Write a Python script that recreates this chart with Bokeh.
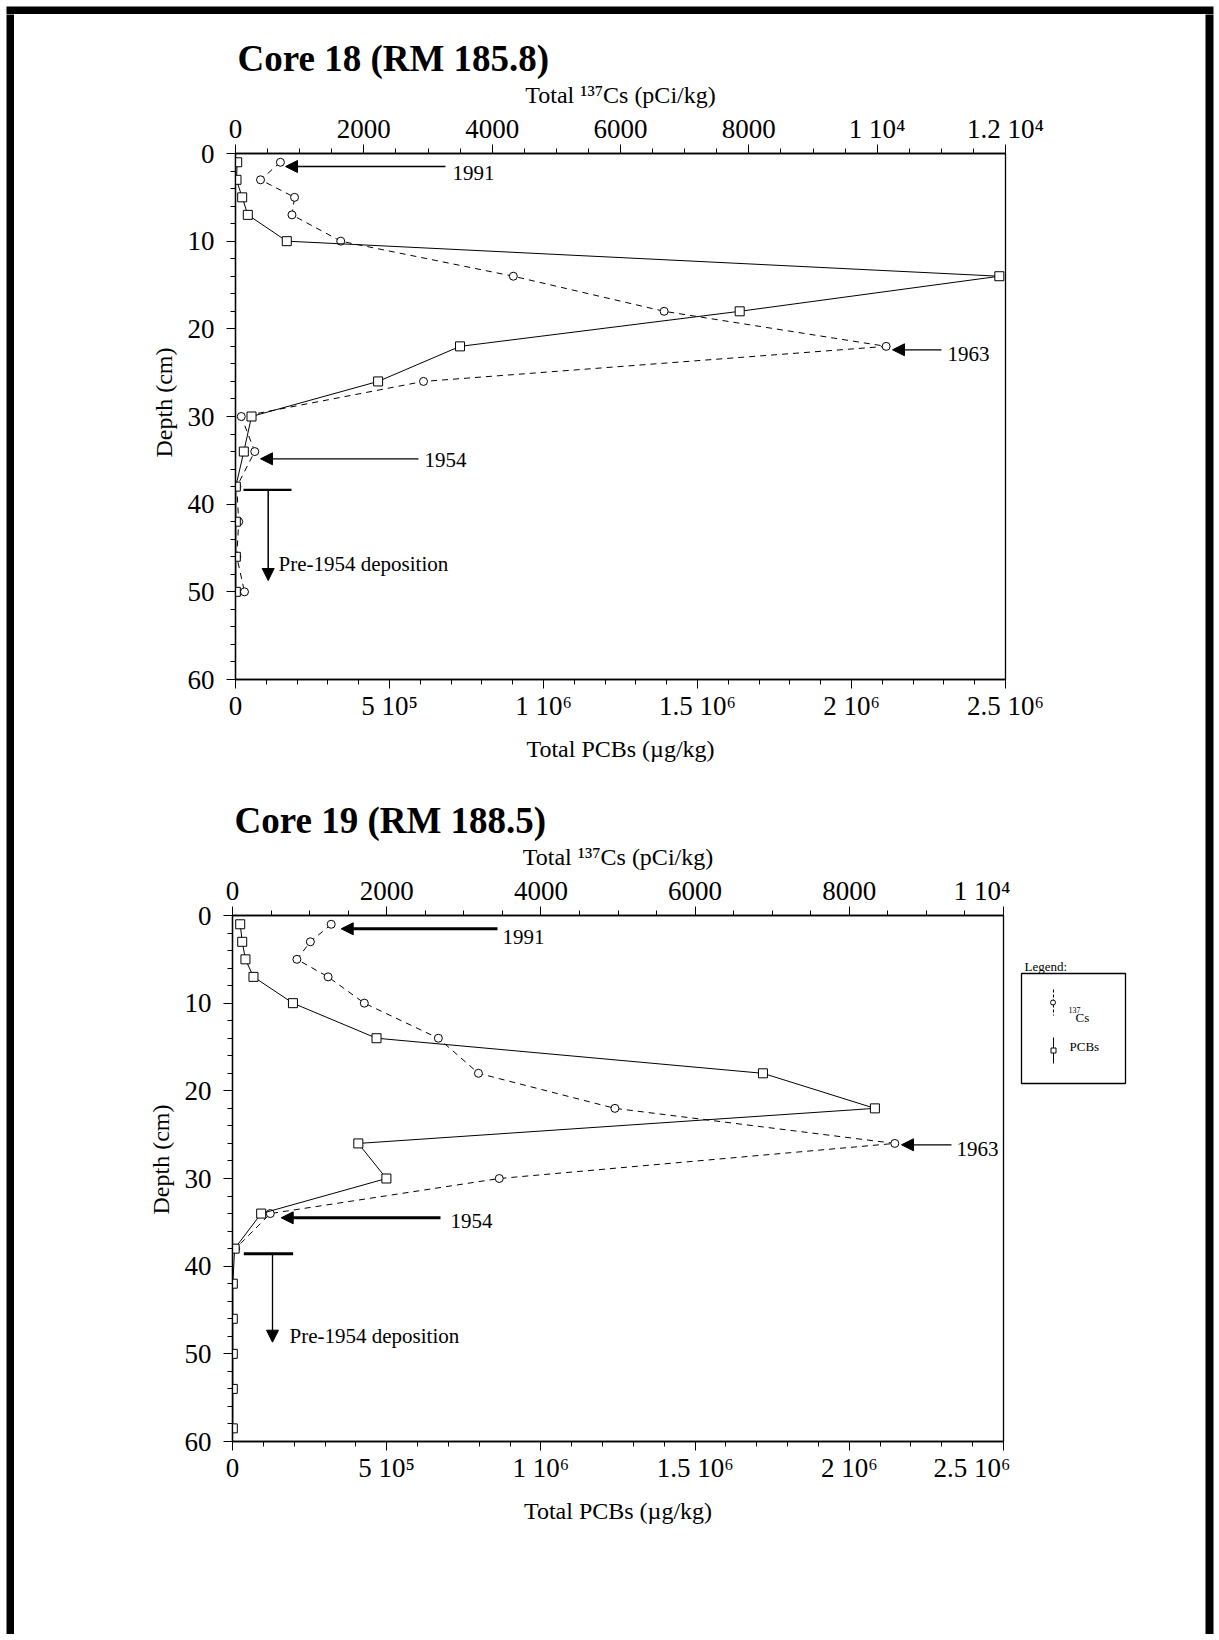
from bokeh.plotting import figure
from bokeh.models import Range1d, LinearAxis, FixedTicker, Label, Arrow, NormalHead, Title
from bokeh.layouts import column, row
from bokeh.core.properties import value
from bokeh.embed import file_html
from bokeh.resources import INLINE

FONT = "Liberation Serif"
PAGE_W = 1219

# ---------------- data ----------------
# Core 18 (RM 185.8)
depth18 = [1, 3, 5, 7, 10, 14, 18, 22, 26, 30, 34, 38, 42, 46, 50]
cs18 = [700, 390, 920, 880, 1640, 4330, 6680, 10140, 2930, 90, 300, 20, 50, 20, 140]
pcb18 = [5500, 3200, 21700, 40000, 166500, 2480000, 1637000, 729000, 463000,
         52000, 27000, 1000, 1000, 1000, 1000]

# Core 19 (RM 188.5)
depth19_cs = [1, 3, 5, 7, 10, 14, 18, 22, 26, 30, 34, 38]
cs19 = [1280, 1010, 835, 1240, 1710, 2670, 3190, 4960, 8590, 3460, 490, 40]
depth19 = [1, 3, 5, 7, 10, 14, 18, 22, 26, 30, 34, 38, 42, 46, 50, 54, 58.5]
pcb19 = [25000, 31500, 42000, 68000, 196000, 467000, 1720000, 2083000, 408000,
         499000, 93000, 7000, 1000, 1000, 1000, 1000, 1000]

# ticks / labels
pcb_ticks = [0, 500000, 1000000, 1500000, 2000000, 2500000]
pcb_labels = ["0", "5 10⁵", "1 10⁶", "1.5 10⁶", "2 10⁶", "2.5 10⁶"]
pcb_minor = list(range(0, 2500001, 100000))
cs18_ticks = [0, 2000, 4000, 6000, 8000, 10000, 12000]
cs18_labels = ["0", "2000", "4000", "6000", "8000", "1 10⁴", "1.2 10⁴"]
cs19_ticks = [0, 2000, 4000, 6000, 8000, 10000]
cs19_labels = ["0", "2000", "4000", "6000", "8000", "1 10⁴"]
depth_ticks = [0, 10, 20, 30, 40, 50, 60]
depth_minor = list(range(0, 61, 2))

legend_labels = ["137", "Cs", "PCBs"]

PCB_MAX = 2500000


def style_axis(ax, ticks, labels, minor, label_text, label_standoff):
    ax.ticker = FixedTicker(ticks=ticks, minor_ticks=minor)
    ax.major_label_overrides = {t: l for t, l in zip(ticks, labels)}
    ax.major_label_text_font = FONT
    ax.major_label_text_font_size = "27px"
    ax.major_label_text_color = "black"
    ax.axis_line_color = "black"
    ax.axis_line_width = 1.3
    ax.major_tick_line_color = "black"
    ax.minor_tick_line_color = "black"
    ax.major_tick_in = 0
    ax.major_tick_out = 9
    ax.minor_tick_in = 0
    ax.minor_tick_out = 5
    if label_text:
        ax.axis_label = label_text
        ax.axis_label_text_font = FONT
        ax.axis_label_text_font_size = "24px"
        ax.axis_label_text_font_style = "normal"
        ax.axis_label_text_color = "black"
        ax.axis_label_standoff = label_standoff


def new_core(title, page_left, page_top, width, height, fl, fr, ft, fb,
             cs_max, cs_ticks, cs_labels, depth_label_bottom):
    p = figure(width=width, height=height, output_backend="svg", toolbar_location=None,
               tools="", title=title,
               x_range=Range1d(0, PCB_MAX), y_range=Range1d(60, 0),
               x_axis_location=None, y_axis_location=None,
               min_border_left=fl - page_left, min_border_right=page_left + width - fr,
               min_border_top=ft - page_top, min_border_bottom=page_top + height - fb)
    p.extra_x_ranges = {"cs": Range1d(0, cs_max)}
    p.outline_line_color = "black"
    p.outline_line_width = 1.3
    p.background_fill_color = "white"
    p.border_fill_color = "white"
    p.grid.visible = False

    p.title.text_font = FONT
    p.title.text_font_size = "37px"
    p.title.text_font_style = "bold"
    p.title.text_color = "black"
    p.title.align = "left"
    p.title.offset = 2
    p.title.standoff = 0

    bottom = LinearAxis()
    style_axis(bottom, pcb_ticks, pcb_labels, pcb_minor, "Total PCBs (µg/kg)", 12)
    bottom.major_label_standoff = 2
    p.add_layout(bottom, "below")

    top_ax = LinearAxis(x_range_name="cs")
    style_axis(top_ax, cs_ticks, cs_labels, list(range(0, cs_max + 1, 500)),
               "Total ¹³⁷Cs (pCi/kg)", 3)
    top_ax.major_label_standoff = 1
    p.add_layout(top_ax, "above")

    left = LinearAxis()
    style_axis(left, depth_ticks, [str(t) for t in depth_ticks], depth_minor, None, 0)
    left.major_label_standoff = 12
    p.add_layout(left, "left")

    # y-axis title as a side-panel title; its lower end sits at depth_label_bottom (page px)
    p.add_layout(Title(text="Depth (cm)", align="left", offset=fb - depth_label_bottom,
                       standoff=16, text_font=FONT, text_font_size="24px",
                       text_font_style="normal", text_color="black"), "left")

    def X(px):
        return (px - fl) / (fr - fl) * PCB_MAX

    def Y(py):
        return (py - ft) / (fb - ft) * 60.0

    return p, X, Y


def add_text(p, X, Y, px, py, text, size):
    p.add_layout(Label(x=X(px), y=Y(py), text=text, text_font=FONT,
                       text_font_size=f"{size}px", text_align="left",
                       text_baseline="middle", text_color="black"))


def add_arrow(p, X, Y, x0, y0, x1, y1, lw, head=12):
    end = NormalHead(size=head, fill_color="black", line_color="black",
                     line_width=1) if head else None
    p.add_layout(Arrow(start=None, end=end, x_start=X(x0), y_start=Y(y0),
                       x_end=X(x1), y_end=Y(y1), line_width=lw,
                       line_color="black"))


def draw_series(p, depth_cs, cs, depth_pcb, pcb):
    p.line(cs, depth_cs, x_range_name="cs", line_color="black", line_width=1,
           line_dash="6 5")
    p.scatter(cs, depth_cs, x_range_name="cs", marker="circle", size=8,
              fill_color="white", line_color="black", line_width=1)
    p.line(pcb, depth_pcb, line_color="black", line_width=1)
    p.scatter(pcb, depth_pcb, marker="square", size=9, fill_color="white",
              line_color="black", line_width=1)


def plain_fig(width, height, ml, mr, mt, mb, xr, yr, bg="white"):
    f = figure(width=width, height=height, output_backend="svg", toolbar_location=None,
               tools="", x_axis_location=None, y_axis_location=None,
               min_border_left=ml, min_border_right=mr, min_border_top=mt,
               min_border_bottom=mb, x_range=xr, y_range=yr)
    f.background_fill_color = bg
    f.border_fill_color = "white"
    f.outline_line_color = None
    f.grid.visible = False
    return f


# ---------------- Core 18 ----------------
p1, X1, Y1 = new_core("Core 18 (RM 185.8)", 14, 14, 1191, 761, 235, 1005, 153, 679,
                      12000, cs18_ticks, cs18_labels, 457)
draw_series(p1, depth18, cs18, depth18, pcb18)

add_arrow(p1, X1, Y1, 445, 166, 285, 166, 1.3)
add_text(p1, X1, Y1, 452, 172, "1991", 21)
add_arrow(p1, X1, Y1, 941, 349.3, 892, 349.3, 1.3)
add_text(p1, X1, Y1, 947, 353, "1963", 21)
add_arrow(p1, X1, Y1, 418, 458.3, 260, 458.3, 1.3)
add_text(p1, X1, Y1, 424, 459.5, "1954", 21)
add_arrow(p1, X1, Y1, 243, 489.3, 291, 489.3, 2.2, head=0)
add_arrow(p1, X1, Y1, 267.7, 489.3, 267.7, 580, 1.5)
add_text(p1, X1, Y1, 278, 563, "Pre-1954 deposition", 21)

# ---------------- Core 19 ----------------
P2_TOP, P2_H, P2_FT, P2_FB = 775, 859, 915, 1441
p2, X2, Y2 = new_core("Core 19 (RM 188.5)", 14, P2_TOP, 996, P2_H, 232, 1003, P2_FT, P2_FB,
                      10000, cs19_ticks, cs19_labels, 1214)
draw_series(p2, depth19_cs, cs19, depth19, pcb19)

add_arrow(p2, X2, Y2, 497, 928.3, 340.7, 928.3, 3)
add_text(p2, X2, Y2, 502, 936.7, "1991", 21)
add_arrow(p2, X2, Y2, 951, 1144.3, 901, 1144.3, 1.3)
add_text(p2, X2, Y2, 956, 1148, "1963", 21)
add_arrow(p2, X2, Y2, 440, 1217.3, 280.7, 1217.3, 3)
add_text(p2, X2, Y2, 450, 1220.7, "1954", 21)
add_arrow(p2, X2, Y2, 243.3, 1253.3, 292.6, 1253.3, 3, head=0)
add_arrow(p2, X2, Y2, 272, 1253.3, 272, 1341.7, 1.3)
add_text(p2, X2, Y2, 289, 1335, "Pre-1954 deposition", 21)

# ---------------- legend panel (page-pixel coordinates, frame aligned with Core 19) ----------------
lg = plain_fig(195, P2_H, 0, 0, P2_FT - P2_TOP, P2_TOP + P2_H - P2_FB,
               Range1d(1010, 1205), Range1d(P2_FB, P2_FT))
lg.text([1024], [966], text=["Legend:"], text_font=value(FONT), text_font_size="13px",
        text_align="left", text_baseline="middle", text_color="black")
lg.quad(left=[1021], right=[1125], top=[973], bottom=[1083], fill_color=None,
        line_color="black", line_width=1.3)
lg.segment(x0=[1053], y0=[989], x1=[1053], y1=[1015], line_color="black",
           line_width=1, line_dash="3 2")
lg.scatter([1052.5], [1002], marker="circle", size=5, fill_color="white",
           line_color="black", line_width=1)
lg.segment(x0=[1053], y0=[1037], x1=[1053], y1=[1063], line_color="black", line_width=1)
lg.scatter([1053], [1050], marker="square", size=5, fill_color="white",
           line_color="black", line_width=1)
lg.text([1068], [1009], text=[legend_labels[0]], text_font=value(FONT),
        text_font_size="8px", text_align="left", text_baseline="middle", text_color="black")
lg.text([1075, 1069], [1017, 1046], text=legend_labels[1:], text_font=value(FONT),
        text_font_size="13px", text_align="left", text_baseline="middle", text_color="black")

# ---------------- page frame ----------------
top_b = plain_fig(PAGE_W, 14, 6, 6, 6, 0, Range1d(0, 1), Range1d(0, 1), bg="black")
left_b = plain_fig(14, 1620, 6, 0, 0, 0, Range1d(0, 1), Range1d(0, 1), bg="black")
right_b = plain_fig(14, 1620, 0, 6, 0, 0, Range1d(0, 1), Range1d(0, 1), bg="black")
bot_b = plain_fig(PAGE_W, 6, 6, 6, 0, 0, Range1d(0, 1), Range1d(0, 1), bg="black")

content = column(p1, row(p2, lg, spacing=0), spacing=0)
page = column(top_b, row(left_b, content, right_b, spacing=0), bot_b, spacing=0)

open("out.html", "w").write(file_html(page, INLINE))
